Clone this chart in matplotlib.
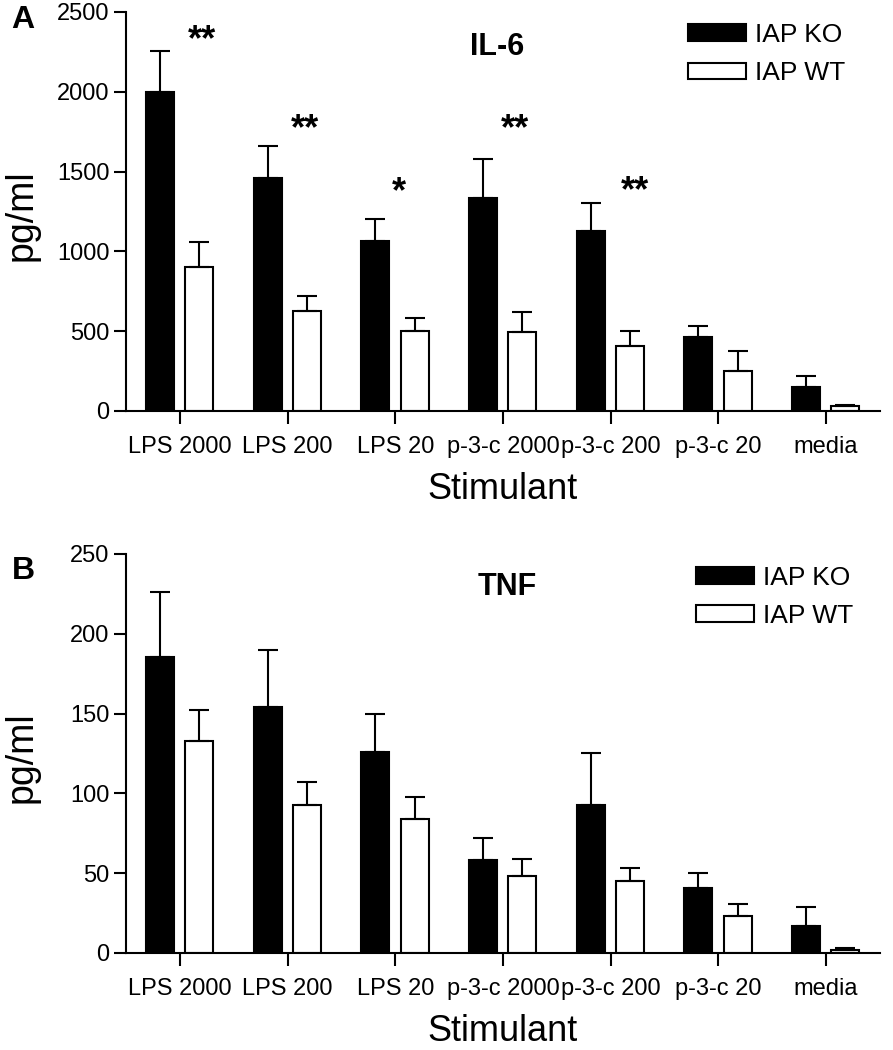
import numpy as np
import matplotlib.pyplot as plt

plt.rcParams['font.family'] = ['Liberation Sans', 'DejaVu Sans']

# data
stimulants = ['LPS 2000', 'LPS 200', 'LPS 20', 'p-3-c 2000', 'p-3-c 200', 'p-3-c 20', 'media']

il6_ko = [2000, 1460, 1065, 1335, 1128, 463, 152]
il6_ko_err = [256, 200, 138, 244, 175, 69, 69]
il6_wt = [902, 627, 501, 495, 408, 250, 30]
il6_wt_err = [157, 93, 81, 125, 95, 126, 10]

tnf_ko = [185.5, 154, 126, 58, 93, 41, 17]
tnf_ko_err = [40.5, 36, 24, 14, 32, 9, 12]
tnf_wt = [133, 93, 84, 48, 45, 23, 2]
tnf_wt_err = [19, 14, 14, 11, 8, 8, 1]

il6_stars = ['**', '**', '*', '**', '**']
il6_star_x = [0.21, 1.16, 2.03, 3.11, 4.23]
il6_star_y = [2320, 1760, 1370, 1760, 1375]


def panel(ax, ko, ko_err, wt, wt_err, ymax, ystep, title, title_pos, leg_pos):
    x = np.arange(len(stimulants))
    w = 0.26
    b1 = ax.bar(x - 0.185, ko, w, color='black', edgecolor='black', linewidth=1.5, label='IAP KO')
    b2 = ax.bar(x + 0.18, wt, w, color='white', edgecolor='black', linewidth=1.5, label='IAP WT')
    zero = np.zeros(len(x))
    ax.errorbar(x - 0.185, ko, yerr=[zero, ko_err], fmt='none', ecolor='black',
                elinewidth=1.5, capsize=7, capthick=1.5)
    ax.errorbar(x + 0.18, wt, yerr=[zero, wt_err], fmt='none', ecolor='black',
                elinewidth=1.5, capsize=7, capthick=1.5)

    ax.set_xlim(-0.5, 6.5)
    ax.set_ylim(0, ymax)
    ax.set_yticks(np.arange(0, ymax + 1, ystep))
    ax.set_xticks(x)
    ax.set_xticklabels(stimulants)
    for s in ['top', 'right']:
        ax.spines[s].set_visible(False)
    for s in ['left', 'bottom']:
        ax.spines[s].set_linewidth(1.5)
    ax.tick_params(axis='both', direction='out', length=9, width=1.5, labelsize=17)
    ax.tick_params(axis='y', pad=3)
    ax.tick_params(axis='x', pad=9)

    ax.set_ylabel('pg/ml', fontsize=27)
    ax.yaxis.set_label_coords(-0.114, 0.49)
    ax.set_xlabel('Stimulant', fontsize=26, labelpad=10)

    ax.text(title_pos[0], title_pos[1], title, transform=ax.transAxes,
            fontsize=22, fontweight='bold', ha='center', va='center')

    ax.legend(handles=[b1, b2], loc='upper left', bbox_to_anchor=leg_pos,
              frameon=False, fontsize=19, handlelength=2.2, handleheight=0.6,
              handletextpad=0.34, labelspacing=0.55, borderpad=0, borderaxespad=0)


fig = plt.figure(figsize=(8.93, 10.5), dpi=100)
ax1 = fig.add_axes([0.1411, 0.6086, 0.8443, 0.38])
ax2 = fig.add_axes([0.1411, 0.0924, 0.8443, 0.38])

panel(ax1, il6_ko, il6_ko_err, il6_wt, il6_wt_err, 2500, 500, 'IL-6', (0.492, 0.912), (0.745, 0.973))
panel(ax2, tnf_ko, tnf_ko_err, tnf_wt, tnf_wt_err, 250, 50, 'TNF', (0.505, 0.917), (0.756, 0.971))

for s, sx, sy in zip(il6_stars, il6_star_x, il6_star_y):
    ax1.text(sx, sy, s, fontsize=26, fontweight='bold', ha='center', va='center')

fig.text(23 / 893, 1 - 20 / 1050, 'A', fontsize=23, fontweight='bold', ha='center', va='center')
fig.text(23 / 893, 1 - 571 / 1050, 'B', fontsize=23, fontweight='bold', ha='center', va='center')

fig.savefig('out.png', dpi=100)
